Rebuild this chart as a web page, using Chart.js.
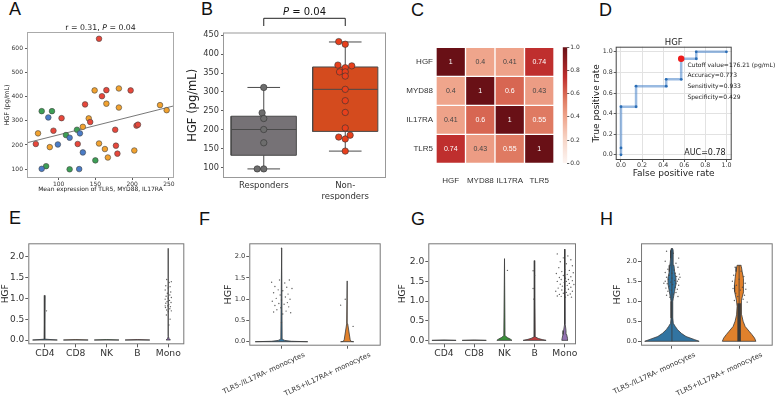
<!DOCTYPE html>
<html lang="en">
<head>
<meta charset="UTF-8">
<title>HGF figure</title>
<script src="https://cdn.jsdelivr.net/npm/chart.js"></script>
<style>
  body { margin: 0; background: #fff; }
  #fig { position: relative; width: 777px; height: 402px; overflow: hidden; }
  #fig canvas { position: absolute; }
  .lbl { position: absolute; font: 18px/18px 'Liberation Sans', Arial, sans-serif; color: #111; }
</style>
</head>
<body>
<div id="fig">
  <div class="lbl" style="left:9px;top:0px">A</div>
  <div class="lbl" style="left:201px;top:0px">B</div>
  <div class="lbl" style="left:411px;top:1px">C</div>
  <div class="lbl" style="left:599px;top:1px">D</div>
  <div class="lbl" style="left:9px;top:209px">E</div>
  <div class="lbl" style="left:199px;top:210px">F</div>
  <div class="lbl" style="left:411px;top:210px">G</div>
  <div class="lbl" style="left:600px;top:210px">H</div>
</div>

<script>
// ---- data ----
// A: HGF vs mean expression, four groups
const aRedX = [155, 165, 159, 198, 104, 136, 143, 93, 69, 126, 177, 178, 180, 206, 208];
const aRedY = [640, 427, 402, 426, 311, 368, 295, 259, 204, 204, 263, 197, 164, 280, 284];
const aOrangeX = [149, 182, 165, 182, 238, 247, 141, 133, 72, 88, 155, 163, 167, 203];
const aOrangeY = [426, 434, 371, 355, 365, 344, 310, 275, 248, 191, 206, 183, 148, 177];
const aBlueX = [86, 99, 115, 129, 133, 77, 128];
const aBlueY = [314, 202, 230, 248, 169, 101, 100];
const aGreenX = [77, 91, 110, 125, 150, 83, 115];
const aGreenY = [340, 340, 241, 263, 136, 112, 99];
const aFitX = [57, 257];
const aFitY = [209, 362];
const aXTicks = [100, 150, 200, 250];
const aYTicks = [100, 200, 300, 400, 500, 600];

// B: box plot responders vs non-responders
const bGroups = [['Responders'], ['Non-', 'responders']];
const bQ1 = [133, 196];
const bMed = [201, 307];
const bQ3 = [236, 366];
const bLo = [97, 144];
const bHi = [312, 432];
const bRespY = [312, 245, 230, 201, 166, 97, 97];
const bRespDx = [0, -0.02, 0, 0, 0, -0.08, 0];
const bNonY = [433, 426, 371, 364, 369, 353, 353, 342, 307, 277, 246, 205, 181, 176, 186, 144];
const bNonDx = [-0.08, 0, -0.09, 0, 0.08, -0.07, 0, 0, 0, 0, 0, 0, -0.08, 0, 0.06, 0];
const bYTicks = [100, 150, 200, 250, 300, 350, 400, 450];

// C: correlation heatmap
const cGenes = ['HGF', 'MYD88', 'IL17RA', 'TLR5'];
const cCorr = [
  [1, 0.4, 0.41, 0.74],
  [0.4, 1, 0.6, 0.43],
  [0.41, 0.6, 1, 0.55],
  [0.74, 0.43, 0.55, 1]
];
const cBarTicks = [0, 0.2, 0.4, 0.6, 0.8, 1.0];

// D: ROC curve
const dFpr = [0, 0, 0, 0.143, 0.143, 0.429, 0.429, 0.571, 0.571, 0.714, 0.714, 1];
const dTpr = [0, 0.067, 0.467, 0.467, 0.667, 0.667, 0.733, 0.733, 0.933, 0.933, 1, 1];
const dCut = [0.571, 0.933];
const dNotes = ['Cutoff value=176.21 (pg/mL)', 'Accuracy=0.773', 'Sensitivity=0.933', 'Specificity=0.429'];
const dNoteY = [0.87, 0.77, 0.665, 0.56];
const dTicks = [0, 0.2, 0.4, 0.6, 0.8, 1.0];

// E-H: violin outlines (levels + half widths) and strip points [dx, y]
const vTicks = [0, 0.5, 1.0, 1.5, 2.0];
const cellCats = ['CD4', 'CD8', 'NK', 'B', 'Mono'];
const monoCats = ['TLR5-/IL17RA- monocytes', 'TLR5+IL17RA+ monocytes'];

const eLevels = [[0, 0.02, 1.07], [0, 0.01], [0, 0.01], [0, 0.01], [0, 0.03, 0.08, 2.2]];
const eWidths = [[0.4, 0.02, 0.003], [0.4, 0], [0.4, 0], [0.4, 0], [0.07, 0.03, 0.005, 0.003]];
const eCd4Pts = [[0.05, 0.7]];
const eMonoPts = [[-0.05, 1.45], [0.1, 1.4], [0.03, 1.38], [-0.08, 1.3], [0.06, 1.28], [0, 1.25], [-0.1, 1.2],
  [0.08, 1.15], [-0.03, 1.12], [0.05, 1.08], [-0.07, 1.05], [0.1, 1.02], [0, 1.0], [-0.1, 0.98], [0.04, 0.95],
  [-0.04, 0.92], [0.09, 0.9], [-0.08, 0.88], [0.02, 0.85], [-0.02, 0.82], [0.07, 0.8], [-0.09, 0.78],
  [0.05, 0.75], [-0.05, 0.72], [0.1, 0.7], [0, 0.68], [-0.06, 0.6], [0.06, 0.5], [0.02, 0.36], [-0.1, 0.82]];

const fLevels = [[0, 0.01, 0.03, 0.06, 2.2], [0, 0.005, 0.05, 0.25, 0.42, 1.43]];
const fWidths = [[0.4, 0.15, 0.05, 0.01, 0.003], [0.1, 0.06, 0.045, 0.025, 0.008, 0.002]];
const fPts0 = [[-0.15, 1.4], [0.12, 1.45], [-0.03, 1.45], [0.05, 1.38], [-0.1, 1.3], [0.08, 1.28], [0.16, 1.25],
  [-0.05, 1.22], [0.02, 1.2], [-0.12, 1.15], [0.1, 1.12], [-0.02, 1.1], [0.06, 1.05], [-0.08, 1.02], [0.13, 1.0],
  [0, 0.98], [-0.14, 0.95], [0.09, 0.92], [-0.04, 0.9], [0.04, 0.88], [-0.1, 0.85], [0.11, 0.82], [-0.01, 0.8],
  [-0.07, 0.75], [0.07, 0.72], [-0.12, 0.7], [0.14, 0.68], [0.02, 0.65], [0, 0.45], [0, 2.2]];
const fPts1 = [[-0.1, 0.86], [-0.03, 1.0], [0.09, 0.36]];

const gLevels = [[0, 0.01], [0, 0.01], [0, 0.03, 0.07, 0.12, 2.08], [0, 0.02, 0.05, 0.09, 2.03],
  [0, 0.05, 0.15, 0.25, 0.4, 2.32]];
const gWidths = [[0.4, 0], [0.4, 0], [0.25, 0.2, 0.1, 0.02, 0.003], [0.38, 0.25, 0.12, 0.02, 0.003],
  [0.1, 0.09, 0.06, 0.04, 0.015, 0.004]];
const gNkPts = [[0.1, 1.78]];
const gBPts = [[-0.05, 1.77], [0, 1.65], [-0.05, 1.32], [-0.03, 1.05]];
const gMonoPts = [[-0.25, 2.2], [0.1, 2.15], [-0.05, 2.1], [0.2, 2.05], [-0.15, 2.0], [0.05, 1.95], [0.25, 1.9],
  [-0.2, 1.85], [0, 1.8], [0.15, 1.78], [-0.1, 1.75], [0.28, 1.72], [-0.28, 1.7], [0.08, 1.68], [-0.05, 1.65],
  [0.2, 1.62], [-0.18, 1.6], [0.02, 1.58], [0.12, 1.55], [-0.12, 1.55], [0.25, 1.52], [-0.25, 1.5], [0.05, 1.5],
  [-0.02, 1.47], [0.15, 1.45], [-0.15, 1.43], [0.3, 1.42], [0.08, 1.4], [-0.08, 1.38], [0.2, 1.35], [-0.22, 1.33],
  [0, 1.32], [0.12, 1.3], [-0.1, 1.28], [0.25, 1.25], [-0.3, 1.25], [0.05, 1.22], [-0.05, 1.2], [0.18, 1.18],
  [-0.18, 1.17], [0.1, 1.15], [-0.12, 1.12], [0.02, 1.1], [0.22, 1.1], [-0.25, 1.13]];

const hLevels = [
  [0, 0.04, 0.12, 0.2, 0.29, 0.37, 0.45, 0.58, 0.8, 1.0, 1.07, 1.24, 1.4, 1.57, 1.74, 1.9, 2.07, 2.27, 2.32],
  [0, 0.08, 0.17, 0.25, 0.37, 0.5, 0.66, 0.87, 1.03, 1.24, 1.4, 1.57, 1.74, 1.86, 1.9]];
const hWidths = [
  [0.405, 0.34, 0.21, 0.14, 0.084, 0.05, 0.02, 0.013, 0.012, 0.013, 0.02, 0.038, 0.055, 0.06, 0.04, 0.03, 0.02, 0.017, 0.01],
  [0.25, 0.23, 0.19, 0.15, 0.09, 0.06, 0.038, 0.03, 0.04, 0.067, 0.07, 0.06, 0.046, 0.034, 0.03]];
const hIqr = [[0, 0], [0, 0.95]];
const hTop = [2.32, 1.9];
const hPts0 = [[-0.08, 2.25], [0.02, 2.2], [0.1, 2.08], [-0.1, 2.0], [0.06, 1.95], [-0.03, 1.9], [0.09, 1.85],
  [-0.06, 1.8], [0.03, 1.78], [-0.1, 1.72], [0.05, 1.7], [0.11, 1.68], [-0.04, 1.65], [0.07, 1.62], [-0.08, 1.6],
  [0, 1.58], [0.1, 1.55], [-0.05, 1.55], [0.04, 1.52], [-0.1, 1.5], [0.08, 1.5], [-0.02, 1.48], [0.06, 1.45],
  [-0.07, 1.44], [0.01, 1.42], [0.1, 1.4], [-0.04, 1.38], [0.05, 1.35], [-0.09, 1.33], [0.08, 1.3], [-0.01, 1.28],
  [-0.06, 1.25], [0.06, 1.22], [0.02, 1.18], [-0.08, 1.15], [0.09, 1.12], [-0.03, 1.1], [0.12, 1.6], [-0.12, 1.45], [0, 1.7]];
const hPts1 = [[-0.06, 1.85], [0.03, 1.75], [-0.08, 1.65], [0.07, 1.62], [0, 1.55], [-0.1, 1.5], [0.09, 1.45],
  [-0.04, 1.4], [0.05, 1.35], [-0.09, 1.32], [0.1, 1.3], [0.02, 1.28], [-0.05, 1.2], [0.08, 1.15], [-0.02, 1.12],
  [0.06, 1.05], [-0.07, 1.02], [0.12, 0.98]];

// ---- styling ----
const pal = ['#3274a1', '#e1812c', '#3a923a', '#c03d3e', '#9372b2'];
const heatStops = [[0, [253, 245, 242]], [0.2, [247, 214, 200]], [0.4, [239, 165, 140]], [0.55, [223, 122, 98]],
  [0.6, [215, 102, 82]], [0.74, [191, 47, 46]], [1, [105, 16, 22]]];

Chart.defaults.font.family = "'DejaVu Sans', sans-serif";
Chart.defaults.color = '#333';
Chart.defaults.animation = false;
Chart.defaults.responsive = false;
Chart.defaults.plugins.legend.display = false;
Chart.defaults.plugins.tooltip.enabled = false;

const fig = document.getElementById('fig');

function canvasAt(box) {
  const c = document.createElement('canvas');
  c.width = box[2];
  c.height = box[3];
  c.style.left = box[0] + 'px';
  c.style.top = box[1] + 'px';
  fig.appendChild(c);
  return c;
}

// box = canvas [left, top, w, h], plot = frame [left, top, right, bottom] in page px
function area(box, plot) {
  return {
    pad: { top: plot[1] - box[1], right: box[0] + box[2] - plot[2], left: 0, bottom: 0 },
    yw: plot[0] - box[0],
    xh: box[1] + box[3] - plot[3]
  };
}

function linAxis(o) {
  const vertical = o.pos === 'left' || o.pos === 'right';
  return {
    type: 'linear', position: o.pos, min: o.min, max: o.max, reverse: !!o.reverse, bounds: 'data',
    afterBuildTicks: s => { s.ticks = o.ticks.map(v => ({ value: v })); },
    afterFit: s => { if (vertical) s.width = o.fit; else s.height = o.fit; },
    ticks: {
      font: { size: o.size, family: o.family }, color: '#333', padding: o.pad ?? 2, autoSkip: false,
      maxRotation: o.rot || 0, minRotation: o.rot || 0, labelOffset: o.labelOffset || 0,
      callback: o.fmt || (v => v)
    },
    grid: {
      display: true, drawOnChartArea: !!o.gridColor, drawTicks: !!o.tickLen, tickLength: o.tickLen || 0,
      color: o.gridColor || 'rgba(0,0,0,0)', tickColor: '#333', tickWidth: 0.8
    },
    border: { display: false },
    title: o.title
      ? { display: true, text: o.title, font: { size: o.titleSize }, color: '#222', padding: o.titlePad }
      : { display: false }
  };
}

function frame(color) {
  return {
    id: 'frame',
    afterDraw(chart) {
      const { ctx, chartArea: a } = chart;
      ctx.save();
      ctx.strokeStyle = color;
      ctx.lineWidth = 1;
      ctx.strokeRect(a.left + 0.5, a.top + 0.5, a.right - a.left - 1, a.bottom - a.top - 1);
      ctx.restore();
    }
  };
}

// draw a run of text pieces (some italic) centred on cx
function drawParts(ctx, parts, cx, y, size) {
  const fonts = parts.map(p => (p[1] ? 'italic ' : '') + size + "px 'DejaVu Sans'");
  let total = 0;
  const widths = parts.map((p, i) => { ctx.font = fonts[i]; const w = ctx.measureText(p[0]).width; total += w; return w; });
  let x = cx - total / 2;
  ctx.textAlign = 'left';
  ctx.textBaseline = 'alphabetic';
  parts.forEach((p, i) => { ctx.font = fonts[i]; ctx.fillText(p[0], x, y); x += widths[i]; });
}

function pairs(xs, ys) { return xs.map((x, i) => ({ x, y: ys[i] })); }

function segData(segs) {
  const out = [];
  segs.forEach(s => { out.push({ x: s[0], y: s[1] }, { x: s[2], y: s[3] }, { x: s[0], y: null }); });
  return out;
}

function dots(data, color, r, edge) {
  return { data, pointRadius: r, backgroundColor: color, borderColor: edge || '#444', borderWidth: 0.6, order: 0 };
}

function violin(cx, levels, widths, color) {
  const right = levels.map((y, i) => ({ x: cx + widths[i], y }));
  const left = levels.map((y, i) => ({ x: cx - widths[i], y })).reverse();
  return {
    data: right.concat(left, [right[0]]), showLine: true, fill: 'shape', backgroundColor: color,
    borderColor: '#3a3a3a', borderWidth: 0.8, pointRadius: 0, order: 3
  };
}

function strip(cx, pts) {
  return { data: pts.map(p => ({ x: cx + p[0], y: p[1] })), pointRadius: 0.7, backgroundColor: 'rgba(70,70,70,0.85)', borderWidth: 0, order: 0 };
}

function heatColor(v) {
  for (let i = 1; i < heatStops.length; i++) {
    const [v1, c1] = heatStops[i];
    const [v0, c0] = heatStops[i - 1];
    if (v <= v1) {
      const t = (v - v0) / (v1 - v0);
      return 'rgb(' + c0.map((c, k) => Math.round(c + (c1[k] - c) * t)).join(',') + ')';
    }
  }
  return 'rgb(' + heatStops[heatStops.length - 1][1].join(',') + ')';
}

// ---- A ----
(function () {
  const box = [0, 20, 185, 180], L = area(box, [27, 32, 174, 178]);
  new Chart(canvasAt(box), {
    type: 'scatter',
    data: {
      datasets: [
        dots(pairs(aRedX, aRedY), '#e8473b', 2.8),
        dots(pairs(aOrangeX, aOrangeY), '#f2a22f', 2.8),
        dots(pairs(aBlueX, aBlueY), '#4a7cc7', 2.8),
        dots(pairs(aGreenX, aGreenY), '#3d9f55', 2.8),
        { data: pairs(aFitX, aFitY), showLine: true, borderColor: '#555', borderWidth: 0.8, pointRadius: 0, order: 5 }
      ]
    },
    options: {
      layout: { padding: L.pad },
      scales: {
        x: linAxis({ pos: 'bottom', min: 57, max: 257, ticks: aXTicks, size: 6, fit: L.xh, tickLen: 2, pad: 1,
          title: 'Mean expression of TLR5, MYD88, IL17RA', titleSize: 6, titlePad: { top: 0, bottom: 7.4 } }),
        y: linAxis({ pos: 'left', min: 63, max: 668, ticks: aYTicks, size: 6, fit: L.yw, tickLen: 2, pad: 2,
          title: 'HGF (pg/mL)', titleSize: 6.5, titlePad: { top: 3.5, bottom: 0 } })
      }
    },
    plugins: [frame('#aaa'), {
      id: 'aTitle',
      afterDraw(chart) {
        const { ctx, chartArea: a } = chart;
        ctx.save();
        ctx.fillStyle = '#222';
        drawParts(ctx, [['r = 0.31, ', false], ['P', true], [' = 0.04', false]], (a.left + a.right) / 2, a.top - 2.5, 7.8);
        ctx.restore();
      }
    }]
  });
})();

// ---- B ----
(function () {
  const box = [185, 0, 210, 200], L = area(box, [223, 32.5, 386, 178]);
  const half = 0.4, cap = 0.2;
  const boxes = [0, 1].map(i => ({
    data: [{ x: i - half, y: bQ1[i] }, { x: i + half, y: bQ1[i] }, { x: i + half, y: bQ3[i] }, { x: i - half, y: bQ3[i] }, { x: i - half, y: bQ1[i] }],
    showLine: true, fill: 'shape', backgroundColor: i ? '#d44b1e' : '#767276', borderColor: '#4a4a4a', borderWidth: 1,
    pointRadius: 0, order: 3
  }));
  const lines = [];
  [0, 1].forEach(i => {
    lines.push([i, bLo[i], i, bQ1[i]], [i, bQ3[i], i, bHi[i]],
      [i - cap, bLo[i], i + cap, bLo[i]], [i - cap, bHi[i], i + cap, bHi[i]],
      [i - half, bMed[i], i + half, bMed[i]]);
  });
  new Chart(canvasAt(box), {
    type: 'scatter',
    data: {
      datasets: [
        dots(bRespY.map((y, k) => ({ x: bRespDx[k], y })), '#6d6d6d', 3.2, '#333'),
        dots(bNonY.map((y, k) => ({ x: 1 + bNonDx[k], y })), '#e8401c', 3.2, '#333'),
        { data: segData(lines), showLine: true, borderColor: '#4a4a4a', borderWidth: 1, pointRadius: 0, order: 2 },
        ...boxes
      ]
    },
    options: {
      layout: { padding: L.pad },
      scales: {
        x: linAxis({ pos: 'bottom', min: -0.5, max: 1.5, ticks: [0, 1], size: 8.5, fit: L.xh, pad: 3,
          fmt: v => bGroups[v] }),
        y: linAxis({ pos: 'left', min: 73, max: 457, ticks: bYTicks, size: 8.2, fit: L.yw, tickLen: 2, pad: 2,
          title: 'HGF (pg/mL)', titleSize: 11.5, titlePad: { top: 1.1, bottom: 0 } })
      }
    },
    plugins: [frame('#999'), {
      id: 'bracket',
      afterDraw(chart) {
        const { ctx, chartArea: a, scales: { x } } = chart;
        const x0 = x.getPixelForValue(0), x1 = x.getPixelForValue(1);
        const yTop = a.top - 14.2, yEnd = a.top - 6.5;
        ctx.save();
        ctx.strokeStyle = '#222';
        ctx.lineWidth = 1;
        ctx.beginPath();
        ctx.moveTo(x0, yEnd); ctx.lineTo(x0, yTop); ctx.lineTo(x1, yTop); ctx.lineTo(x1, yEnd);
        ctx.stroke();
        ctx.fillStyle = '#111';
        drawParts(ctx, [['P', true], [' = 0.04', false]], (x0 + x1) / 2, yTop - 3, 10);
        ctx.restore();
      }
    }]
  });
})();

// ---- C: heatmap + colour bar ----
(function () {
  const box = [395, 20, 165, 180], L = area(box, [436, 47.3, 554, 163.3]);
  new Chart(canvasAt(box), {
    type: 'bar',
    data: {
      labels: cGenes,
      datasets: cCorr.map((row, i) => ({
        data: row.map(() => [i, i + 1]),
        backgroundColor: row.map(heatColor),
        borderColor: '#fff', borderWidth: 1, borderSkipped: false,
        grouped: false, barPercentage: 1, categoryPercentage: 1
      }))
    },
    options: {
      layout: { padding: L.pad },
      scales: {
        x: {
          afterFit: s => { s.height = L.xh; },
          grid: { display: false }, border: { display: false },
          ticks: { font: { size: 8, family: "'Liberation Sans'" }, color: '#333', padding: 4.5, maxRotation: 0, minRotation: 0, autoSkip: false }
        },
        y: linAxis({ pos: 'left', min: 0, max: 4, reverse: true, ticks: [0.5, 1.5, 2.5, 3.5], size: 8,
          family: "'Liberation Sans'", fit: L.yw, pad: 3, fmt: v => cGenes[Math.floor(v)] })
      }
    },
    plugins: [{
      id: 'cellText',
      afterDatasetsDraw(chart) {
        const ctx = chart.ctx;
        ctx.save();
        ctx.font = "7px 'Liberation Sans'";
        ctx.textAlign = 'center';
        ctx.textBaseline = 'middle';
        cCorr.forEach((row, i) => {
          const meta = chart.getDatasetMeta(i);
          row.forEach((v, j) => {
            const el = meta.data[j];
            ctx.fillStyle = v > 0.5 ? '#fff' : '#444';
            ctx.fillText(String(v), el.x, (el.y + el.base) / 2);
          });
        });
        ctx.restore();
      }
    }]
  });

  const cbox = [555, 20, 37, 180], CL = area(cbox, [562.7, 47.3, 567.3, 163.3]);
  new Chart(canvasAt(cbox), {
    type: 'bar',
    data: {
      labels: [''],
      datasets: [{
        data: [[0, 1]], barPercentage: 1, categoryPercentage: 1, borderWidth: 0,
        backgroundColor: ctx => {
          const a = ctx.chart.chartArea;
          if (!a) return heatColor(0.5);
          const g = ctx.chart.ctx.createLinearGradient(0, a.bottom, 0, a.top);
          heatStops.forEach(s => g.addColorStop(s[0], heatColor(s[0])));
          return g;
        }
      }]
    },
    options: {
      layout: { padding: { top: CL.pad.top, right: 0, left: CL.yw, bottom: cbox[1] + cbox[3] - 163.3 } },
      scales: {
        x: { display: false },
        y: linAxis({ pos: 'right', min: 0, max: 1, ticks: cBarTicks, size: 6, fit: cbox[0] + cbox[2] - 567.3,
          tickLen: 2, pad: 1, fmt: v => v.toFixed(1) })
      }
    }
  });
})();

// ---- D: ROC ----
(function () {
  const box = [590, 20, 187, 180], L = area(box, [615.7, 46.7, 731.7, 160]);
  new Chart(canvasAt(box), {
    type: 'scatter',
    data: {
      datasets: [
        { data: [{ x: dCut[0], y: dCut[1] }], pointRadius: 3.2, backgroundColor: '#ee1c1c', borderWidth: 0, order: 0 },
        {
          data: pairs(dFpr, dTpr), showLine: true, borderColor: 'rgba(70,130,200,0.55)', borderWidth: 2.5,
          pointRadius: 1.4, pointBackgroundColor: '#2a6db5', pointBorderWidth: 0, order: 1
        }
      ]
    },
    options: {
      layout: { padding: L.pad },
      scales: {
        x: linAxis({ pos: 'bottom', min: -0.05, max: 1.05, ticks: dTicks, size: 6.3, fit: L.xh, tickLen: 2, pad: 0,
          gridColor: '#e2e2e2', fmt: v => v.toFixed(1),
          title: 'False positive rate', titleSize: 9, titlePad: { top: 0, bottom: 20.6 } }),
        y: linAxis({ pos: 'left', min: -0.05, max: 1.05, ticks: dTicks, size: 6.3, fit: L.yw, tickLen: 2, pad: 1,
          gridColor: '#e2e2e2', fmt: v => v.toFixed(1),
          title: 'True positive rate', titleSize: 9, titlePad: { top: 1.6, bottom: 0 } })
      }
    },
    plugins: [frame('#444'), {
      id: 'rocText',
      afterDraw(chart) {
        const { ctx, chartArea: a, scales: { x, y } } = chart;
        ctx.save();
        ctx.fillStyle = '#222';
        drawParts(ctx, [['HGF', false]], (a.left + a.right) / 2, a.top - 2.2, 8.5);
        ctx.font = "6px 'DejaVu Sans'";
        ctx.textAlign = 'left';
        ctx.textBaseline = 'middle';
        dNotes.forEach((t, i) => ctx.fillText(t, x.getPixelForValue(0.63), y.getPixelForValue(dNoteY[i])));
        ctx.font = "8px 'DejaVu Sans'";
        ctx.textBaseline = 'alphabetic';
        ctx.fillText('AUC=0.78', x.getPixelForValue(0.6), y.getPixelForValue(0));
        ctx.restore();
      }
    }]
  });
})();

// ---- violin panels ----
function violinPanel(box, plot, cfg) {
  const L = area(box, plot);
  new Chart(canvasAt(box), {
    type: 'scatter',
    data: { datasets: cfg.datasets },
    options: {
      layout: { padding: L.pad },
      scales: {
        x: linAxis({ pos: 'bottom', min: cfg.xr[0], max: cfg.xr[1], ticks: cfg.cats.map((c, i) => i), size: cfg.xSize,
          fit: L.xh, tickLen: 3, pad: cfg.xPad, rot: cfg.rot, labelOffset: cfg.labelOffset, fmt: v => cfg.cats[v] }),
        y: linAxis({ pos: 'left', min: cfg.yr[0], max: cfg.yr[1], ticks: vTicks, size: cfg.ySize, fit: L.yw,
          tickLen: 3, pad: 1, fmt: v => v.toFixed(1),
          title: 'HGF', titleSize: cfg.titleSize, titlePad: { top: cfg.titlePad, bottom: 0 } })
      }
    },
    plugins: [frame('#777')]
  });
}

// E
violinPanel([0, 220, 190, 182], [28.3, 243.3, 184.3, 344.3], {
  cats: cellCats, xr: [-0.54, 4.52], yr: [-0.103, 2.32], xSize: 9.2, ySize: 9, xPad: 0.5, titleSize: 9, titlePad: 0,
  datasets: [
    ...cellCats.map((c, i) => violin(i, eLevels[i], eWidths[i], pal[i])),
    strip(0, eCd4Pts), strip(4, eMonoPts)
  ]
});

// F
violinPanel([190, 220, 195, 182], [223.3, 243.3, 380.7, 345.7], {
  cats: monoCats, xr: [-0.49, 1.51], yr: [-0.094, 2.315], xSize: 7, ySize: 6.7, xPad: 2, rot: 25, labelOffset: 23,
  titleSize: 9.5, titlePad: 6.8,
  datasets: [
    violin(0, fLevels[0], fWidths[0], pal[0]), violin(1, fLevels[1], fWidths[1], pal[1]),
    strip(0, fPts0), strip(1, fPts1)
  ]
});

// G
violinPanel([385, 220, 195, 182], [428.3, 243.3, 579, 344.3], {
  cats: cellCats, xr: [-0.52, 4.37], yr: [-0.1, 2.47], xSize: 9.2, ySize: 9.2, xPad: 0.5, titleSize: 9, titlePad: 12.6,
  datasets: [
    ...cellCats.map((c, i) => violin(i, gLevels[i], gWidths[i], pal[i])),
    strip(2, gNkPts), strip(3, gBPts), strip(4, gMonoPts)
  ]
});

// H
violinPanel([580, 220, 197, 182], [616.7, 243.3, 772.7, 345.7], {
  cats: monoCats, xr: [-0.46, 1.5], yr: [-0.11, 2.45], xSize: 7, ySize: 6.7, xPad: 2, rot: 25, labelOffset: 23,
  titleSize: 9.5, titlePad: 7.3,
  datasets: [
    violin(0, hLevels[0], hWidths[0], pal[0]), violin(1, hLevels[1], hWidths[1], pal[1]),
    { data: segData([[0, 0, 0, hTop[0]], [1, hIqr[1][1], 1, hTop[1]]]), showLine: true, borderColor: '#3a3a3a', borderWidth: 0.8, pointRadius: 0, order: 1 },
    { data: segData(hIqr.map((q, i) => [i, q[0], i, q[1]])), showLine: true, borderColor: '#3a3a3a', borderWidth: 3.5, pointRadius: 0, order: 1 },
    strip(0, hPts0), strip(1, hPts1)
  ]
});
</script>
</body>
</html>
